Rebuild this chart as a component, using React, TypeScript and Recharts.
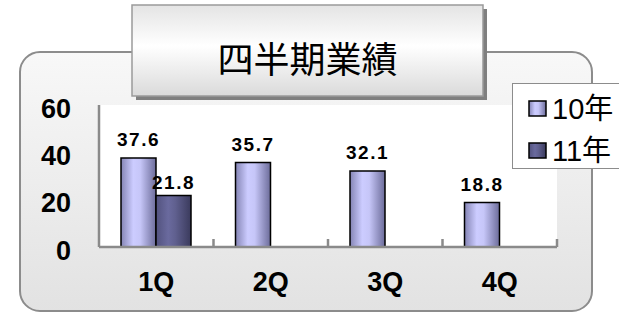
import { Bar, BarChart, CartesianGrid, LabelList, Legend, XAxis, YAxis } from "recharts";

const quarters = ["1Q", "2Q", "3Q", "4Q"];
const sales10 = [37.6, 35.7, 32.1, 18.8];
const sales11: (number | null)[] = [21.8, null, null, null];
const seriesNames = ["10年", "11年"];
const yTicks = [0, 20, 40, 60];
const chartTitle = "四半期業績";

const data = quarters.map((q, i) => ({ quarter: q, y10: sales10[i], y11: sales11[i] }));

const LATIN = '"Liberation Sans", Arial, "Noto Sans CJK JP", sans-serif';
const CJK = '"Noto Sans CJK JP", "Noto Sans CJK SC", sans-serif';
const AXIS_GRAY = "#8a8a8a";

const gradients = [
  { id: "g10", stops: ["#8484b4", "#ccccff", "#c6c6f8", "#6c6c9a"] },
  { id: "g11", stops: ["#52527e", "#6a6a9e", "#60608f", "#3a3a5c"] },
];

function GradDef({ id, stops }: { id: string; stops: string[] }) {
  return (
    <linearGradient id={id} x1="0" y1="0" x2="1" y2="0">
      <stop offset="0%" stopColor={stops[0]} />
      <stop offset="35%" stopColor={stops[1]} />
      <stop offset="55%" stopColor={stops[2]} />
      <stop offset="100%" stopColor={stops[3]} />
    </linearGradient>
  );
}

// category label plus the small boundary ticks that stick up from the axis
function QuarterTick(props: any) {
  const { x, y, payload, index, visibleTicksCount, width } = props;
  const half = payload.offset ?? width / visibleTicksCount / 2;
  return (
    <g>
      {index > 0 && <line x1={x - half} x2={x - half} y1={y} y2={y - 8} stroke={AXIS_GRAY} strokeWidth={2.5} />}
      {index === visibleTicksCount - 1 && (
        <line x1={x + half} x2={x + half} y1={y} y2={y - 8} stroke={AXIS_GRAY} strokeWidth={2.5} />
      )}
      <text x={x} y={y + 35} textAnchor="middle" dominantBaseline="central" fontFamily={LATIN} fontWeight="bold" fontSize={27} fill="#000">
        {payload.value}
      </text>
    </g>
  );
}

function LegendBox({ payload }: any) {
  return (
    <div style={{ paddingTop: 4 }}>
      {(payload || []).map((entry: any, i: number) => (
        <div key={entry.value} style={{ height: 42, display: "flex", alignItems: "center", paddingLeft: 15 }}>
          <svg width={20} height={18} style={{ marginRight: 4 }}>
            <defs>
              <GradDef id={`lg${i}`} stops={gradients[i].stops} />
            </defs>
            <rect x={1} y={1} width={17} height={15} fill={`url(#lg${i})`} stroke="#000" strokeWidth={1.5} />
          </svg>
          <span style={{ fontFamily: LATIN, fontSize: 29, color: "#000", lineHeight: 1 }}>{entry.value}</span>
        </div>
      ))}
    </div>
  );
}

export default function App() {
  return (
    <div style={{ position: "fixed", left: 0, top: 0, width: 619, height: 313, overflow: "hidden", background: "#fff" }}>
      <svg width={619} height={313} style={{ position: "absolute", left: 0, top: 0 }}>
        <defs>
          <linearGradient id="outerBg" x1="0" y1="0" x2="0" y2="1">
            <stop offset="0%" stopColor="#f8f8f8" />
            <stop offset="100%" stopColor="#e2e2e2" />
          </linearGradient>
          <linearGradient id="titleBg" x1="0" y1="0" x2="0" y2="1">
            <stop offset="0%" stopColor="#e4e4e4" />
            <stop offset="45%" stopColor="#ffffff" />
            <stop offset="100%" stopColor="#dadada" />
          </linearGradient>
        </defs>
        <rect x={20} y={52} width={572} height={259} rx={20} fill="url(#outerBg)" stroke="#8c8c8c" strokeWidth={2} />
        <rect x={136} y={9} width={351} height={91} fill="#7f7f7f" />
        <rect x={132} y={5} width={351} height={91} fill="url(#titleBg)" stroke="#9a9a9a" strokeWidth={1.5} />
        <text x={307.5} y={57} textAnchor="middle" dominantBaseline="central" fontFamily={CJK} fontSize={36} fill="#000">
          {chartTitle}
        </text>
      </svg>
      <div style={{ position: "absolute", left: 0, top: 0 }}>
        <BarChart
          width={619}
          height={313}
          data={data}
          margin={{ top: 105, right: 62, left: 20, bottom: 26 }}
          barCategoryGap={22}
          barGap={0}
        >
          <defs>
            {gradients.map((g) => (
              <GradDef key={g.id} id={g.id} stops={g.stops} />
            ))}
          </defs>
          <CartesianGrid horizontal={false} vertical={false} fill="#ffffff" />
          <XAxis
            dataKey="quarter"
            height={40}
            tickLine={false}
            tickSize={0}
            tickMargin={0}
            axisLine={{ stroke: AXIS_GRAY, strokeWidth: 2.5 }}
            tick={<QuarterTick />}
            interval={0}
          />
          <YAxis
            width={79}
            domain={[0, 60]}
            ticks={yTicks}
            tickLine={false}
            tickSize={0}
            tickMargin={28}
            axisLine={{ stroke: AXIS_GRAY, strokeWidth: 2.5 }}
            tick={{ fontFamily: LATIN, fontWeight: "bold", fontSize: 27, fill: "#000", dy: 3 }}
          />
          <Legend
            layout="vertical"
            align="center"
            verticalAlign="middle"
            content={<LegendBox />}
            wrapperStyle={{
              left: 512,
              top: 83,
              width: 130,
              height: 86,
              background: "#fff",
              border: "1px solid #8c8c8c",
              boxSizing: "border-box",
            }}
          />
          <Bar dataKey="y10" name={seriesNames[0]} fill="url(#g10)" stroke="#000" strokeWidth={1.5} isAnimationActive={false}>
            <LabelList
              dataKey="y10"
              position="top"
              offset={12}
              style={{ fontFamily: LATIN, fontWeight: "bold", fontSize: 19, fill: "#000", letterSpacing: 1.5 }}
            />
          </Bar>
          <Bar dataKey="y11" name={seriesNames[1]} fill="url(#g11)" stroke="#000" strokeWidth={1.5} isAnimationActive={false}>
            <LabelList
              dataKey="y11"
              position="top"
              offset={6}
              style={{ fontFamily: LATIN, fontWeight: "bold", fontSize: 19, fill: "#000", letterSpacing: 1.5 }}
            />
          </Bar>
        </BarChart>
      </div>
    </div>
  );
}
